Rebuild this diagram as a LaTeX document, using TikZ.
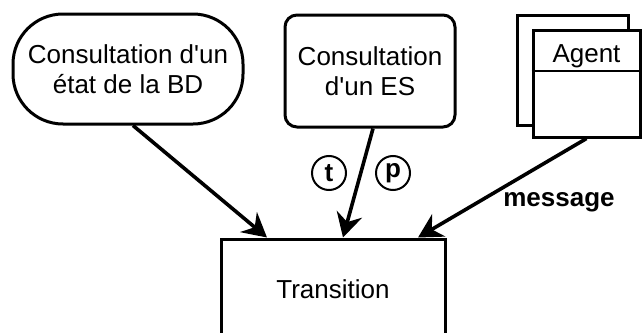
\documentclass[tikz,border=0pt]{standalone}
\usepackage{fontspec}
\setmainfont{Liberation Sans}
\usetikzlibrary{arrows.meta}

\tikzset{
  boite/.style={draw, line width=1.5pt, align=center, inner sep=0pt, font=\fontsize{13}{15}\selectfont},
  fleche/.style={line width=1.8pt, -{Stealth[length=12pt, width=13pt, inset=4pt]}},
  jeton/.style={draw, circle, line width=1pt, minimum size=17pt, inner sep=0pt, font=\fontsize{13}{15}\selectfont\bfseries},
}

\begin{document}
\begin{tikzpicture}[x=0.5pt, y=-0.5pt]
  \useasboundingbox (0,0) rectangle (642,332);
  \clip (0,0) rectangle (642,332);
  \node[boite, rounded corners=25pt, minimum width=115pt, minimum height=55pt] (bd) at (128,69) {Consultation d\textquotesingle un\\état de la BD};
  \node[boite, rounded corners=6pt, minimum width=85pt, minimum height=56pt] (es) at (370,71) {Consultation\\d\textquotesingle un ES};
  % agent : deux cadres superposes
  \node[boite, minimum width=55.5pt, minimum height=55pt] (agentfond) at (572.5,70) {};
  \node[boite, fill=white, minimum width=53.5pt, minimum height=53.5pt] (agent) at (586.5,83.5) {};
  \draw[line width=1pt] (agent.west |- 0,71) -- (agent.east |- 0,71);
  \node[font=\fontsize{13}{15}\selectfont, anchor=base] (agentnom) at (586.5,62) {Agent};
  \node[boite, minimum width=112pt, minimum height=50pt] (trans) at (333,289) {Transition};
  \draw[fleche] ([xshift=2.5pt]bd.south) -- ([xshift=-33pt]trans.north);
  \draw[fleche] ([xshift=1.5pt]es.south) -- ([xshift=5pt]trans.north);
  \draw[fleche] (agent.south) -- ([xshift=42.5pt]trans.north);
  \node[jeton] (t) at (329,173) {t};
  \node[jeton] (p) at (393,173) {p};
  \node[font=\fontsize{13}{15}\selectfont\bfseries, anchor=base] (msg) at (559,206) {message};
\end{tikzpicture}
\end{document}
